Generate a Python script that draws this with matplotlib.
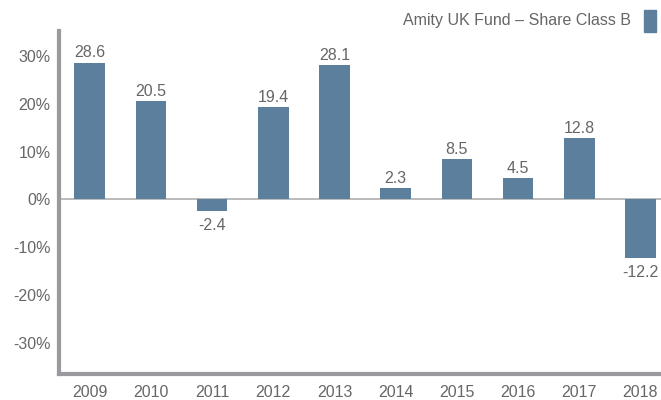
import matplotlib
matplotlib.use("Agg")
import matplotlib.pyplot as plt

years = ["2009", "2010", "2011", "2012", "2013", "2014", "2015", "2016", "2017", "2018"]
values = [28.6, 20.5, -2.4, 19.4, 28.1, 2.3, 8.5, 4.5, 12.8, -12.2]
yticks = [-30, -20, -10, 0, 10, 20, 30]
series_name = "Amity UK Fund \u2013 Share Class B"

bar_color = "#5b7f9c"
text_color = "#666666"
spine_color = "#9a9a9e"

plt.rcParams['font.family'] = ['Liberation Sans', 'DejaVu Sans']

fig = plt.figure(figsize=(6.61, 4.0), dpi=100)
ax = fig.add_axes([59/661, 26/400, 1 - 59/661, (374-31)/400])

x = list(range(len(years)))
ax.bar(x, values, width=0.5, color=bar_color, zorder=2)
ax.axhline(0, color="#a8a8a8", linewidth=1.1, zorder=1)

for xi, v in zip(x, values):
    if v >= 0:
        ax.annotate(f"{v:.1f}", (xi, v), xytext=(0, 1.5), textcoords="offset points",
                    ha="center", va="bottom", fontsize=11.5, color=text_color)
    else:
        ax.annotate(f"{v:.1f}", (xi, v), xytext=(0, -5), textcoords="offset points",
                    ha="center", va="top", fontsize=11.5, color=text_color)

ax.set_xlim(-0.5, 9.335)
ax.set_ylim(-36.5, 35.2)
ax.set_xticks(x)
ax.set_xticklabels(years)
ax.set_yticks(yticks)
ax.set_yticklabels([f"{t}%" for t in yticks])
ax.tick_params(axis="both", length=0, labelsize=11.5, colors=text_color)
ax.tick_params(axis="x", pad=8)
ax.tick_params(axis="y", pad=6)

for s in ["top", "right"]:
    ax.spines[s].set_visible(False)
for s in ["left", "bottom"]:
    ax.spines[s].set_color(spine_color)
    ax.spines[s].set_linewidth(3.0)

# legend
fig.text(631/661, 1 - 20/400, series_name, ha="right", va="center",
         fontsize=11.5, color=text_color)
fig.patches.append(matplotlib.patches.Rectangle((644/661, 1 - 32/400), 12/661, 22/400,
                   transform=fig.transFigure, color=bar_color, figure=fig))

fig.savefig("out.png", dpi=100)
